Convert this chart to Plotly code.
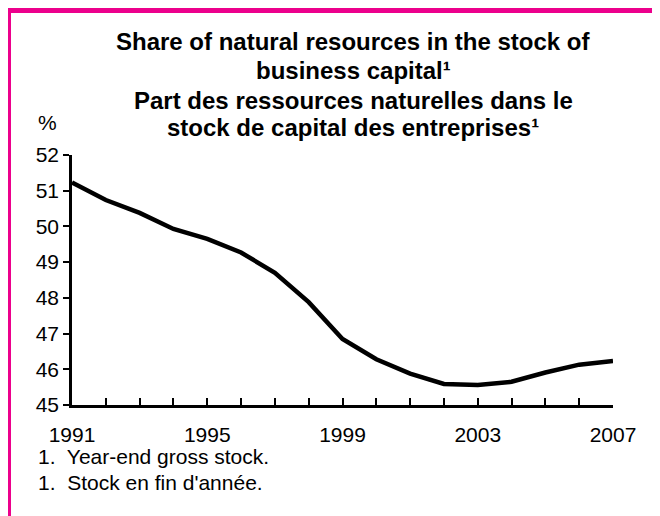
import plotly.graph_objects as go

years = list(range(1991, 2008))
share = [51.23, 50.74, 50.38, 49.93, 49.65, 49.27, 48.70, 47.88, 46.85,
         46.28, 45.88, 45.59, 45.56, 45.65, 45.91, 46.13, 46.23]
x_labels = [1991, 1995, 1999, 2003, 2007]
y_ticks = list(range(45, 53))

title_lines = [
    "Share of natural resources in the stock of",
    "business capital¹",
    "Part des ressources naturelles dans le",
    "stock de capital des entreprises¹",
]
notes = ["1.  Year-end gross stock.", "1.  Stock en fin d'année."]

FONT = "Liberation Sans, Arial, sans-serif"
PINK = "#EC008C"

# plot area in figure px (page adds an 8px body margin)
L, R, T, B = 64, 605, 147, 397
W, H = 660, 516


def px_x(p):
    return (p - L) / (R - L)


def px_y(p):
    return (B - p) / (B - T)


fig = go.Figure()
fig.add_trace(go.Scatter(x=years, y=share, mode="lines",
                         line=dict(color="black", width=4.5),
                         hoverinfo="skip", showlegend=False))

fig.update_layout(
    width=W, height=H, autosize=False,
    margin=dict(l=L, r=W - R, t=T, b=H - B),
    plot_bgcolor="white", paper_bgcolor="white",
    font=dict(family=FONT, size=21, color="black"),
    showlegend=False,
)

fig.update_xaxes(
    range=[1991, 2007], tickvals=x_labels, ticks="inside", ticklen=7,
    tickwidth=2, tickcolor="black", showline=True, linewidth=2.5,
    linecolor="black", showgrid=False, zeroline=False,
    ticklabelstandoff=9,
    minor=dict(dtick=1, tick0=1991, ticks="inside", ticklen=7,
               tickwidth=2, tickcolor="black"),
)
fig.update_yaxes(
    range=[45, 52], tickvals=y_ticks, ticks="outside", ticklen=6,
    tickwidth=2, tickcolor="black", showline=True, linewidth=2.5,
    linecolor="black", showgrid=False, zeroline=False,
)

# title, one annotation per line
title_y = [33, 63, 92, 120]
for line, yy in zip(title_lines, title_y):
    fig.add_annotation(
        text="<b>" + line + "</b>",
        x=px_x(345), y=px_y(yy), xref="paper", yref="paper",
        xanchor="center", yanchor="middle", showarrow=False,
        font=dict(size=24),
    )

# % unit label
fig.add_annotation(text="%", x=px_x(39), y=px_y(114), xref="paper", yref="paper",
                   xanchor="center", yanchor="middle", showarrow=False)

# footnotes
for i, t in enumerate(notes):
    fig.add_annotation(text=t, x=px_x(28), y=px_y(448 + 26 * i),
                       xref="paper", yref="paper", xanchor="left",
                       yanchor="middle", showarrow=False)

# pink frame
fig.add_shape(type="rect", xref="paper", yref="paper",
              x0=px_x(0.5), x1=px_x(651.5), y0=px_y(530), y1=px_y(2.5),
              line=dict(color=PINK, width=5), fillcolor="rgba(0,0,0,0)",
              layer="below")

fig.write_html("out.html")
